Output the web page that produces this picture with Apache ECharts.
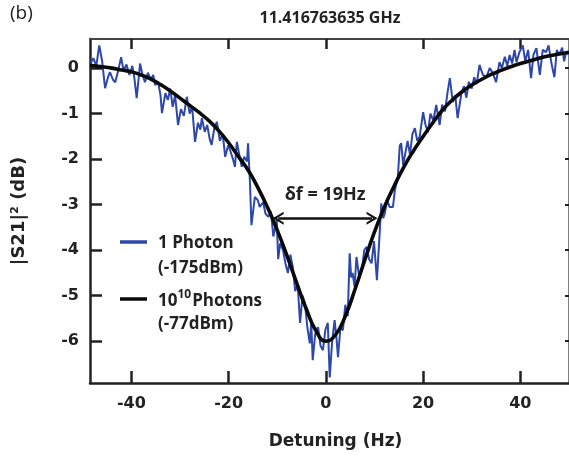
<!DOCTYPE html>
<html>
<head>
<meta charset="utf-8">
<script src="https://cdn.jsdelivr.net/npm/echarts@6/dist/echarts.min.js"></script>
<style>html,body{margin:0;padding:0;background:#fff}#c{width:569px;height:457px}</style>
</head>
<body>
<div id="c"></div>
<script>
// ---- data ----
var xTicks = [-40, -20, 0, 20, 40];
var yTicks = [0, -1, -2, -3, -4, -5, -6];

// 1 photon (-175 dBm) measured trace: [detuning Hz, dB]
var photon1 = [
[-48.4,0.10],[-47.8,0.22],[-47.2,0.05],[-46.6,0.50],[-46.0,0.15],[-45.4,-0.44],[-44.8,-0.20],[-44.4,-0.09],
[-43.8,-0.25],[-43.3,-0.31],[-42.7,-0.05],[-42.1,0.24],[-41.6,-0.05],[-41.0,0.08],[-40.4,-0.15],[-39.8,0.05],
[-39.4,-0.20],[-38.9,-0.66],[-38.2,0.10],[-37.7,-0.15],[-37.2,-0.31],[-36.6,-0.10],[-36.0,-0.25],[-35.5,-0.15],
[-35.1,-0.37],[-34.5,-0.30],[-34.0,-0.60],[-33.7,-0.99],[-33.0,-0.55],[-32.5,-0.70],[-32.0,-0.45],[-31.5,-0.85],
[-31.0,-0.60],[-30.4,-1.25],[-29.8,-0.90],[-29.2,-1.05],[-28.6,-0.63],[-28.0,-1.00],[-27.5,-0.85],[-26.9,-1.62],
[-26.3,-1.20],[-25.8,-1.35],[-25.5,-1.10],[-24.9,-1.40],[-24.4,-1.25],[-23.9,-1.55],[-23.5,-1.69],[-22.9,-1.30],
[-22.4,-1.18],[-21.8,-1.60],[-21.2,-1.45],[-20.7,-1.95],[-20.1,-1.70],[-19.7,-1.80],[-19.1,-2.00],[-18.7,-2.17],
[-18.3,-1.62],[-17.8,-1.90],[-17.3,-2.17],[-16.8,-1.95],[-16.2,-2.05],[-16.0,-1.65],[-15.6,-2.53],[-15.3,-3.45],
[-14.6,-2.83],[-14.0,-2.90],[-13.6,-3.05],[-12.9,-2.95],[-12.4,-3.20],[-11.8,-3.27],[-11.3,-3.15],[-10.8,-3.70],
[-10.1,-3.34],[-9.8,-4.20],[-9.4,-3.85],[-8.8,-4.00],[-8.3,-4.30],[-7.8,-4.50],[-7.3,-4.10],[-6.8,-4.37],
[-6.3,-4.90],[-5.8,-4.75],[-5.3,-5.60],[-4.8,-5.00],[-4.3,-5.17],[-3.8,-5.70],[-3.3,-6.05],[-3.0,-5.60],
[-2.7,-6.42],[-2.2,-5.85],[-1.6,-5.69],[-1.1,-6.10],[-0.6,-6.20],[-0.1,-5.75],[0.4,-5.60],[0.8,-6.80],
[1.3,-6.00],[1.8,-5.54],[2.2,-5.95],[2.5,-6.35],[3.0,-5.70],[3.5,-5.76],[4.0,-5.20],[4.5,-5.45],
[4.9,-4.07],[5.2,-4.60],[5.5,-4.50],[5.9,-4.80],[6.3,-4.15],[6.8,-4.55],[7.4,-4.44],[7.9,-4.00],
[8.4,-3.93],[8.9,-4.20],[9.4,-4.29],[9.9,-3.80],[10.5,-4.66],[11.1,-3.56],[11.4,-2.97],[11.8,-3.30],
[12.1,-3.20],[12.6,-2.90],[13.1,-3.05],[13.8,-3.05],[14.2,-2.68],[14.8,-2.40],[15.2,-1.70],[15.5,-1.65],
[15.9,-2.13],[16.2,-1.95],[16.8,-1.60],[17.3,-1.90],[17.8,-1.45],[18.3,-1.32],[18.8,-1.60],[19.3,-1.50],
[19.7,-1.20],[20.0,-0.97],[20.5,-1.25],[21.0,-1.41],[21.5,-1.00],[22.1,-1.15],[22.7,-0.81],[23.4,-1.25],
[23.9,-0.80],[24.5,-0.95],[25.0,-0.55],[25.5,-0.22],[26.1,-0.75],[26.6,-0.60],[27.1,-1.10],[27.9,-0.53],
[28.4,-0.40],[28.9,-0.65],[29.4,-0.30],[30.0,-0.45],[30.5,-0.20],[31.0,-0.35],[31.6,0.07],[32.3,-0.15],
[33.0,-0.20],[33.7,0.00],[34.3,-0.10],[35.0,-0.31],[35.7,0.13],[36.2,0.00],[36.8,0.25],[37.3,0.05],
[37.8,0.29],[38.3,0.10],[38.8,0.40],[39.2,0.13],[39.8,0.35],[40.5,0.50],[41.0,0.15],[41.6,0.40],
[42.2,-0.22],[42.7,0.30],[43.3,0.44],[43.7,0.10],[44.0,-0.15],[44.6,0.40],[45.3,0.35],[45.8,0.50],
[46.4,0.10],[47.0,-0.20],[47.5,0.40],[48.0,0.29],[48.6,0.45],[49.0,0.15],[49.4,0.35],[49.9,0.30]
];

// 10^10 photons (-77 dBm) trace: [detuning Hz, dB]
var photon1e10 = [
[-48.5,0.06],[-46,0.03],[-44,0.00],[-42,-0.04],[-40,-0.08],[-38,-0.15],[-36,-0.24],[-34,-0.36],
[-32,-0.50],[-30,-0.66],[-28,-0.82],[-26,-0.98],[-24,-1.16],[-22,-1.38],[-20,-1.64],[-18,-1.94],
[-16,-2.24],[-14,-2.62],[-12,-3.06],[-10,-3.56],[-8,-4.12],[-6,-4.72],[-4,-5.30],[-2,-5.78],
[0,-6.00],[2,-5.86],[4,-5.45],[6,-4.86],[8,-4.22],[10,-3.60],[12,-3.06],[14,-2.60],
[16,-2.18],[18,-1.82],[20,-1.50],[22,-1.20],[24,-0.92],[26,-0.70],[28,-0.52],[30,-0.37],
[32,-0.25],[34,-0.14],[36,-0.05],[38,0.03],[40,0.10],[42,0.16],[44,0.22],[46,0.27],
[48,0.31],[50,0.35]
];

// linewidth arrow annotation (Hz, dB)
var arrowStart = [-9.8, -3.3];
var arrowEnd = [9.5, -3.3];
var arrowLabel = 'δf = 19Hz';

var chart = echarts.init(document.getElementById('c'), null, {renderer: 'canvas'});
var axisCol = '#222';
var tickFont = {fontFamily: 'DejaVu Sans', fontWeight: 'bold', fontSize: 16, color: '#222'};
var chevron = 'path://M5,0 L10,9 L8.2,9 L5,3.4 L1.8,9 L0,9 Z';
var legFont = 'bold 17px "Open Sans"';

chart.setOption({
  animation: false,
  backgroundColor: '#fff',
  grid: {left: 90, top: 39, right: 0, bottom: 74},
  xAxis: [{
    type: 'value', min: -48.5, max: 50, position: 'bottom',
    name: 'Detuning (Hz)', nameLocation: 'middle', nameGap: 50,
    nameTextStyle: {fontFamily: 'DejaVu Sans', fontWeight: 'bold', fontSize: 17, color: '#222', padding: [0, 0, 0, 12]},
    axisLine: {show: true, onZero: false, lineStyle: {color: axisCol, width: 2.5}},
    axisTick: {show: true, inside: true, length: 12, lineStyle: {color: axisCol, width: 2.5}, customValues: xTicks},
    axisLabel: Object.assign({margin: 13, customValues: xTicks}, tickFont),
    splitLine: {show: false}
  }, {
    type: 'value', min: -48.5, max: 50, position: 'top',
    axisLine: {show: true, onZero: false, lineStyle: {color: '#444', width: 2}},
    axisTick: {show: true, inside: true, length: 10, lineStyle: {color: axisCol, width: 2.5}, customValues: xTicks},
    axisLabel: {show: false},
    splitLine: {show: false}
  }],
  yAxis: [{
    type: 'value', min: -6.92, max: 0.64, position: 'left',
    name: '|S21|² (dB)', nameLocation: 'middle', nameGap: 62,
    nameTextStyle: {fontFamily: 'DejaVu Sans', fontWeight: 'bold', fontSize: 18, color: '#222'},
    axisLine: {show: true, onZero: false, lineStyle: {color: axisCol, width: 2.5}},
    axisTick: {show: true, inside: true, length: 12, lineStyle: {color: axisCol, width: 2.5}, customValues: yTicks},
    axisLabel: Object.assign({margin: 11, customValues: yTicks}, tickFont),
    splitLine: {show: false}
  }, {
    type: 'value', min: -6.92, max: 0.64, position: 'right',
    axisLine: {show: true, onZero: false, lineStyle: {color: '#555', width: 1.5}},
    axisTick: {show: true, inside: true, length: 4, lineStyle: {color: axisCol, width: 2}, customValues: yTicks},
    axisLabel: {show: false},
    splitLine: {show: false}
  }],
  series: [{
    name: '1 Photon (-175dBm)',
    type: 'line', xAxisIndex: 0, yAxisIndex: 0,
    data: photon1, showSymbol: false, symbol: 'none',
    lineStyle: {color: '#2d48a8', width: 2},
    z: 2
  }, {
    name: '10^10 Photons (-77dBm)',
    type: 'line', xAxisIndex: 0, yAxisIndex: 0,
    data: photon1e10, showSymbol: false, symbol: 'none', smooth: 0.5,
    lineStyle: {color: '#0a0a0a', width: 3.6},
    z: 3,
    markLine: {
      silent: true, animation: false,
      symbol: [chevron, chevron], symbolSize: [13, 11],
      lineStyle: {color: '#111', width: 2.6, type: 'solid'},
      label: {show: true, position: 'middle', distance: 14, formatter: arrowLabel,
        fontFamily: 'Open Sans', fontWeight: 'bold', fontSize: 18, color: '#222'},
      data: [[{coord: arrowStart}, {coord: arrowEnd}]]
    }
  }],
  graphic: [
    {type: 'text', left: 10, top: 4, style: {text: '(b)', font: '19px "Open Sans"', fill: '#222'}},
    {type: 'text', x: 330, y: 18, style: {text: '11.416763635 GHz', font: 'bold 16px "Open Sans"', fill: '#222', align: 'center', verticalAlign: 'middle'}},
    {type: 'line', shape: {x1: 120, y1: 242, x2: 147, y2: 242}, style: {stroke: '#2d48a8', lineWidth: 3.5}},
    {type: 'text', x: 158, y: 243, style: {text: '1 Photon', font: legFont, fill: '#222', verticalAlign: 'middle'}},
    {type: 'text', x: 158, y: 268, style: {text: '(-175dBm)', font: legFont, fill: '#222', verticalAlign: 'middle'}},
    {type: 'line', shape: {x1: 120, y1: 299, x2: 147, y2: 299}, style: {stroke: '#0a0a0a', lineWidth: 3.5}},
    {type: 'text', x: 158, y: 299, style: {
      text: '{a|10}{s|10}{a|Photons}', verticalAlign: 'middle', fill: '#222',
      rich: {a: {font: legFont, fill: '#222', verticalAlign: 'bottom'},
             s: {font: 'bold 12px "Open Sans"', fill: '#222', verticalAlign: 'top', padding: [0, 1, 9, 0]}}
    }},
    {type: 'text', x: 158, y: 324, style: {text: '(-77dBm)', font: legFont, fill: '#222', verticalAlign: 'middle'}}
  ]
});
</script>
</body>
</html>
